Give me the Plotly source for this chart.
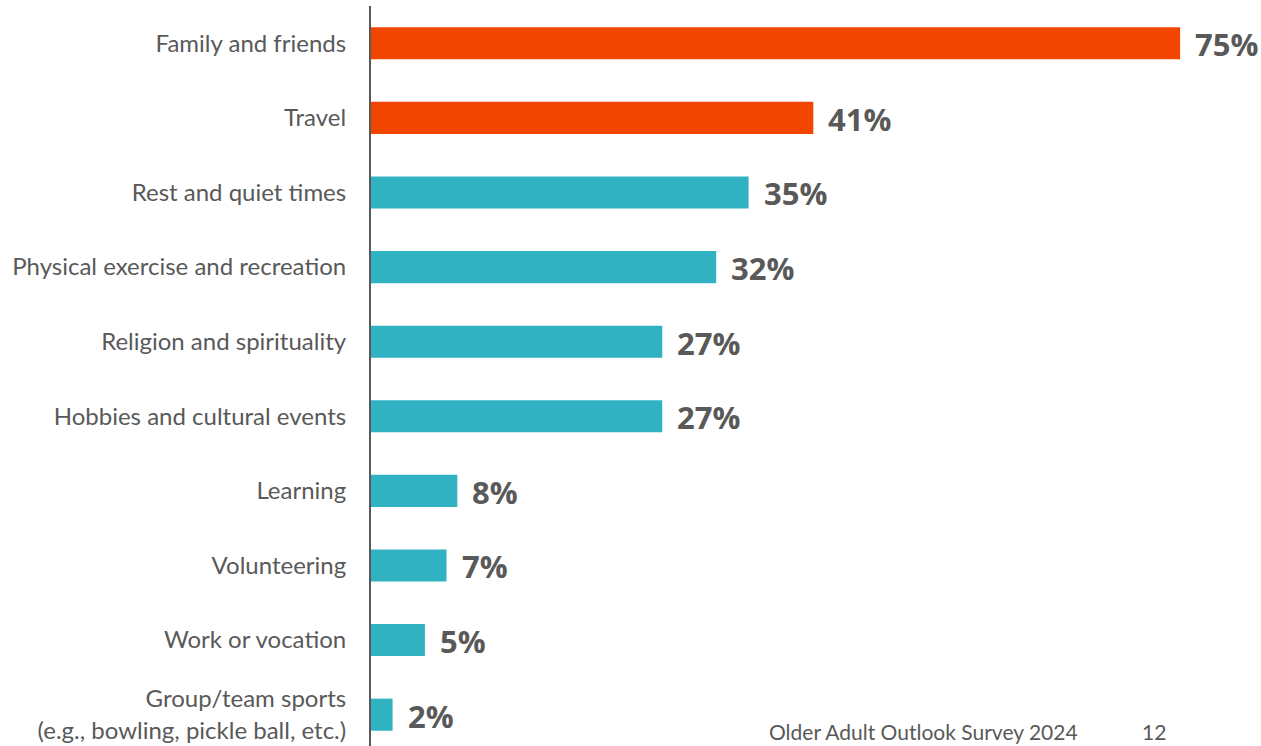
import plotly.graph_objects as go

categories = [
    "Family and friends",
    "Travel",
    "Rest and quiet times",
    "Physical exercise and recreation",
    "Religion and spirituality",
    "Hobbies and cultural events",
    "Learning",
    "Volunteering",
    "Work or vocation",
    "Group/team sports<br>(e.g., bowling, pickle ball, etc.)",
]
values = [75, 41, 35, 32, 27, 27, 8, 7, 5, 2]
highlight_count = 2

ORANGE = "#F24500"
TEAL = "#31B2C3"
GRAY = "#595959"

positions = list(range(len(categories)))
colors = [ORANGE if i < highlight_count else TEAL for i in positions]

fig = go.Figure(
    go.Bar(
        x=values,
        y=positions,
        orientation="h",
        width=0.43,
        marker=dict(color=colors, line=dict(width=0)),
        hoverinfo="skip",
    )
)

# value labels just past each bar end
for pos, val in zip(positions, values):
    fig.add_annotation(
        x=val, y=pos, xref="x", yref="y",
        text=f"{val}%",
        xanchor="left", yanchor="middle",
        xshift=13, yshift=-1,
        showarrow=False,
        font=dict(family="Open Sans", size=31, color=GRAY, weight="bold"),
    )

fig.update_layout(
    width=1261,
    height=746,
    margin=dict(l=371, r=0, t=6, b=0),
    paper_bgcolor="white",
    plot_bgcolor="white",
    showlegend=False,
    font=dict(family="Lato", color=GRAY),
    xaxis=dict(
        range=[0, 82.5],
        visible=False,
        fixedrange=True,
    ),
    yaxis=dict(
        range=[9.42, -0.5],
        tickmode="array",
        tickvals=positions,
        ticktext=categories,
        tickfont=dict(family="Lato", size=24, color=GRAY),
        ticks="",
        ticklabelstandoff=18,
        showgrid=False,
        zeroline=False,
        showline=True,
        linecolor=GRAY,
        linewidth=2,
        fixedrange=True,
    ),
)

footer_font = dict(family="Lato", size=21, color=GRAY)
fig.add_annotation(
    text="Older Adult Outlook Survey 2024",
    xref="paper", yref="paper",
    x=(767 - 371) / (1261 - 371), y=0,
    xanchor="left", yanchor="bottom",
    showarrow=False,
    font=footer_font,
    yshift=0,
)
fig.add_annotation(
    text="12",
    xref="paper", yref="paper",
    x=(1140 - 371) / (1261 - 371), y=0,
    xanchor="left", yanchor="bottom",
    showarrow=False,
    font=footer_font,
    yshift=0,
)

fig.write_html("out.html")
